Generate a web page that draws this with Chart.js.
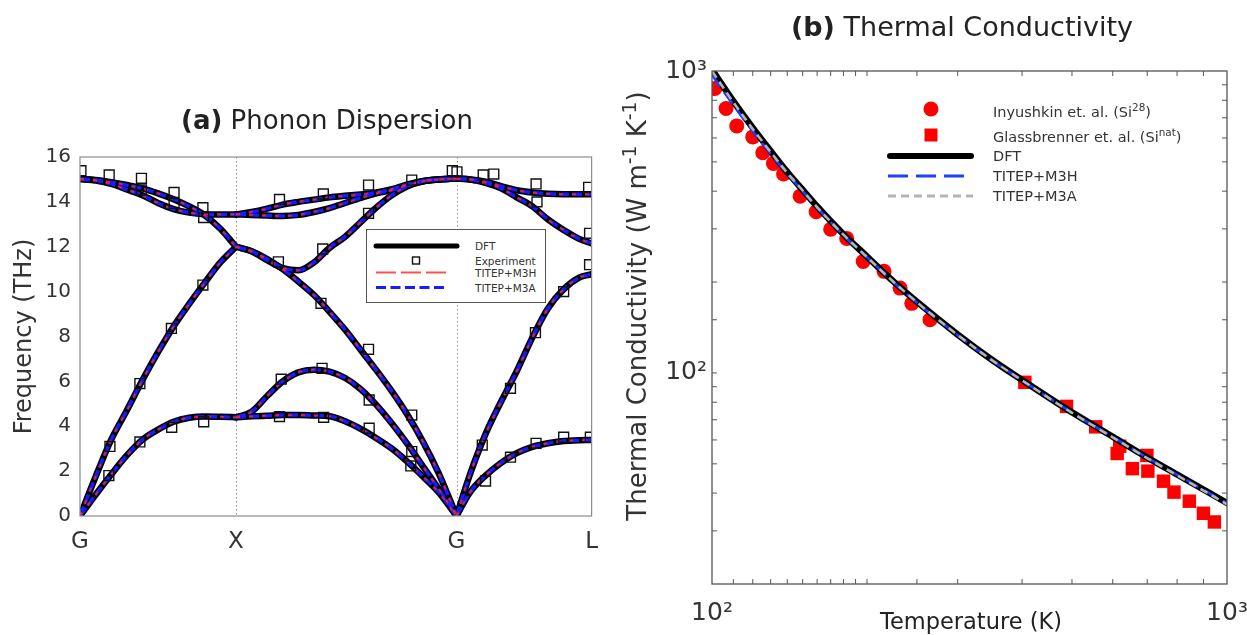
<!DOCTYPE html>
<html><head><meta charset="utf-8">
<script src="https://cdn.jsdelivr.net/npm/chart.js@4.4.1/dist/chart.umd.min.js"></script>
<style>
html,body{margin:0;padding:0;background:#fff}
body{width:1247px;height:635px;position:relative;overflow:hidden;font-family:"DejaVu Sans",sans-serif;color:#222}
canvas{position:absolute;top:0}
#c1{left:0}
#c2{left:610px}
.t{position:absolute;white-space:nowrap}
.lg{position:absolute}
sup{font-size:0.72em;line-height:0}
</style></head><body>
<canvas id="c1" width="610" height="635"></canvas>
<canvas id="c2" width="637" height="635"></canvas>

<div class="t" style="left:0;width:654px;top:104px;line-height:32px;text-align:center;font-size:26px"><b>(a)</b> Phonon Dispersion</div>
<div class="t" style="left:662px;width:600px;top:11px;line-height:32px;text-align:center;font-size:27px"><b>(b)</b> Thermal Conductivity</div>
<div class="t" style="left:771px;width:400px;top:606px;line-height:30px;text-align:center;font-size:22.5px">Temperature (K)</div>
<div class="t" style="left:387px;width:500px;top:290px;height:32px;line-height:32px;text-align:center;font-size:26px;color:#333;transform:rotate(-90deg);transform-origin:50% 50%">Thermal Conductivity (W m<sup>-1</sup> K<sup>-1</sup>)</div>

<!-- legend (a) -->
<div class="lg" style="left:366px;top:229px;width:178px;height:72px;border:1.5px solid #555;background:#fff">
  <svg width="178" height="72" style="position:absolute;left:0;top:0">
    <line x1="9" y1="16" x2="90" y2="16" stroke="#000" stroke-width="5" stroke-linecap="round"/>
    <rect x="45.5" y="27" width="7" height="7" fill="none" stroke="#111" stroke-width="1.4"/>
    <line x1="9" y1="42.5" x2="80" y2="42.5" stroke="#ff5050" stroke-width="2" stroke-dasharray="20 5"/>
    <line x1="9" y1="57.5" x2="80" y2="57.5" stroke="#1a1aff" stroke-width="3" stroke-dasharray="10 4.5"/>
  </svg>
  <div class="t" style="left:108px;top:9px;font-size:10.5px;line-height:14px;color:#333">DFT</div>
  <div class="t" style="left:108px;top:23.5px;font-size:10.5px;line-height:14px;color:#333">Experiment</div>
  <div class="t" style="left:108px;top:36px;font-size:10.5px;line-height:14px;color:#333">TITEP+M3H</div>
  <div class="t" style="left:108px;top:51px;font-size:10.5px;line-height:14px;color:#333">TITEP+M3A</div>
</div>

<!-- legend (b) -->
<div class="lg" style="left:880px;top:95px;width:340px;height:115px">
  <svg width="100" height="115" style="position:absolute;left:0;top:0">
    <circle cx="51" cy="14" r="7.5" fill="#ff0000"/>
    <rect x="44.5" y="33.5" width="13" height="13" fill="#ff0000"/>
    <line x1="10" y1="61" x2="91" y2="61" stroke="#000" stroke-width="6" stroke-linecap="round"/>
    <line x1="8" y1="81" x2="84" y2="81" stroke="#1f3fff" stroke-width="3" stroke-dasharray="20 8"/>
    <line x1="8" y1="101" x2="93" y2="101" stroke="#b4b4b4" stroke-width="3" stroke-dasharray="8 5"/>
  </svg>
  <div class="t" style="left:113px;top:7px;font-size:14.5px;line-height:20px;color:#333">Inyushkin et. al. (Si<sup>28</sup>)</div>
  <div class="t" style="left:113px;top:32px;font-size:14.5px;line-height:20px;color:#333">Glassbrenner et. al. (Si<sup>nat</sup>)</div>
  <div class="t" style="left:113px;top:51px;font-size:14.5px;line-height:20px;color:#333">DFT</div>
  <div class="t" style="left:113px;top:71px;font-size:14.5px;line-height:20px;color:#333">TITEP+M3H</div>
  <div class="t" style="left:113px;top:91px;font-size:14.5px;line-height:20px;color:#333">TITEP+M3A</div>
</div>

<script>
// ---------------- Panel (a): phonon dispersion data ----------------
const K_POS = [0, 1, 2.414, 3.28];
const K_LABELS = ['G', 'X', 'G', 'L'];
const FREQ_TICKS = [0, 2, 4, 6, 8, 10, 12, 14, 16];

const X_GX = [0, 0.1, 0.2, 0.3, 0.4, 0.5, 0.6, 0.7, 0.8, 0.9, 1.0];
const GX_TA = [0, 0.95, 1.85, 2.7, 3.4, 3.85, 4.2, 4.38, 4.43, 4.42, 4.4];
const GX_LA = [0, 1.75, 3.4, 4.7, 6.05, 7.3, 8.45, 9.45, 10.4, 11.3, 12.0];
const GX_LO = [15.02, 14.98, 14.88, 14.75, 14.6, 14.38, 14.12, 13.8, 13.4, 12.8, 12.0];
const GX_TO = [15.02, 14.95, 14.8, 14.55, 14.3, 13.95, 13.68, 13.52, 13.45, 13.44, 13.44];

const X_XG = [1.0, 1.1, 1.2, 1.3, 1.4, 1.5, 1.6, 1.7, 1.8, 1.9, 2.0, 2.1, 2.2, 2.3, 2.414];
const XG_TA1 = [4.4, 4.65, 5.35, 6.0, 6.4, 6.52, 6.43, 6.15, 5.65, 4.95, 4.12, 3.2, 2.2, 1.2, 0];
const XG_TA2 = [4.4, 4.44, 4.47, 4.5, 4.5, 4.48, 4.45, 4.22, 3.88, 3.47, 3.0, 2.41, 1.75, 1.05, 0];
const XG_LA = [12.0, 11.8, 11.45, 11.0, 10.45, 9.85, 9.1, 8.3, 7.4, 6.5, 5.55, 4.5, 3.3, 1.9, 0];
const XG_LO = [12.0, 11.8, 11.4, 11.05, 10.95, 11.3, 11.95, 12.45, 13.1, 13.75, 14.3, 14.7, 14.92, 15.0, 15.04];
const XG_TOA = [13.44, 13.55, 13.7, 13.88, 14.0, 14.1, 14.2, 14.27, 14.33, 14.42, 14.57, 14.78, 14.93, 15.0, 15.04];
const XG_TOB = [13.44, 13.42, 13.39, 13.37, 13.42, 13.55, 13.72, 13.95, 14.18, 14.38, 14.52, 14.74, 14.92, 15.0, 15.04];

const X_GL = [2.414, 2.5, 2.6, 2.7, 2.8, 2.9, 3.0, 3.1, 3.2, 3.28];
const GL_TO = [15.04, 15.0, 14.9, 14.7, 14.52, 14.42, 14.36, 14.34, 14.34, 14.34];
const GL_LO = [15.04, 15.0, 14.85, 14.6, 14.2, 13.8, 13.22, 12.75, 12.35, 12.15];
const GL_LA = [0, 1.85, 3.65, 5.1, 6.45, 7.95, 9.25, 10.1, 10.62, 10.78];
const GL_TA = [0, 1.05, 1.8, 2.37, 2.8, 3.08, 3.24, 3.34, 3.38, 3.39];

// experiment (open squares)
const EXP_K = [0.006, 0.187, 0.394, 0.394, 0.603, 0.603, 0.788, 0.793,
  0.185, 0.192, 0.384, 0.384, 0.588, 0.586, 0.793, 0.788,
  1.279, 1.560, 1.850, 2.127, 2.387, 2.417, 1.850, 1.556, 1.272, 1.545, 1.850,
  1.290, 1.552, 1.854, 2.127, 1.279, 1.562, 1.854, 2.127, 2.121,
  2.585, 2.653, 2.924, 3.261, 2.930, 3.267, 3.267, 3.101, 2.920, 2.760, 2.579,
  2.600, 2.760, 2.924, 3.101, 3.272];
const EXP_F = [15.39, 15.2, 15.05, 14.53, 14.42, 13.93, 13.74, 13.3,
  1.8, 3.1, 3.3, 5.9, 3.95, 8.36, 4.2, 10.29,
  14.11, 14.35, 14.75, 14.97, 15.39, 15.34, 13.49, 11.9, 11.33, 9.48, 7.43,
  6.1, 6.58, 5.17, 4.5, 4.43, 4.4, 3.91, 2.87, 2.23,
  15.2, 15.24, 14.8, 14.65, 14.0, 12.6, 11.2, 10.0, 8.17, 5.69, 3.16,
  1.56, 2.62, 3.24, 3.51, 3.51];

// ---------------- Panel (b): thermal conductivity data ----------------
const T_CURVE = [100, 110, 120, 130, 140, 150, 160, 180, 200, 225, 250, 300, 350, 400, 500, 600, 700, 800, 900, 1000];
const K_DFT = [1010, 795, 648, 543, 463, 404, 356, 288, 243, 201, 172, 134, 110.4, 94.8, 74.1, 61.5, 52.5, 46.1, 41.1, 37.1];
const K_M3H = [970, 772, 632, 532, 456, 400, 353, 286, 241.5, 200, 171, 133.4, 110, 94.5, 73.9, 61.3, 52.4, 46.0, 41.0, 37.0];
const K_M3A = [1000, 788, 643, 539, 460, 402, 354, 287, 242, 200.5, 171.5, 133.6, 110.1, 94.5, 73.8, 61.2, 52.2, 45.8, 40.8, 36.7];

const T_INY = [101.3, 106.5, 111.7, 120, 125.5, 131.6, 137.7, 148.3, 159.3, 170, 182.6, 196.6, 215.8, 231.8, 244.3, 265];
const K_INY = [875, 751, 658, 605, 536, 494, 456, 385, 342, 299, 279, 234, 217, 191, 170, 150];
const T_GLA = [405, 488, 556, 612, 619, 655, 699, 702, 753, 789, 845, 900, 945];
const K_GLA = [93.1, 77.5, 66.3, 54.1, 57.2, 48.2, 53.3, 47.3, 43.8, 40.3, 37.6, 34.3, 32.1];

// ---------------- rendering ----------------
const FONT = '"DejaVu Sans", sans-serif';
Chart.defaults.font.family = FONT;
Chart.defaults.color = '#333';

const pts = (xs, ys) => xs.map((x, i) => ({x: x, y: ys[i]}));

const framePlugin = {
  id: 'frame',
  beforeDatasetsDraw(chart, args, o) {
    if (!o.dotted) return;
    const ctx = chart.ctx, a = chart.chartArea, xs = chart.scales.x;
    ctx.save();
    ctx.strokeStyle = '#8a8a8a'; ctx.lineWidth = 1; ctx.setLineDash([1.5, 2.5]);
    o.dotted.forEach(v => {
      const px = Math.round(xs.getPixelForValue(v)) + 0.5;
      ctx.beginPath(); ctx.moveTo(px, a.top); ctx.lineTo(px, a.bottom); ctx.stroke();
    });
    ctx.restore();
  },
  afterDatasetsDraw(chart, args, o) {
    const ctx = chart.ctx, a = chart.chartArea;
    ctx.save();
    ctx.strokeStyle = o.color || '#555'; ctx.lineWidth = o.width || 1.2;
    ctx.strokeRect(a.left, a.top, a.right - a.left, a.bottom - a.top);
    if (o.inwardTicks) {
      const L = 5;
      const xs = chart.scales.x, ys = chart.scales.y;
      ctx.lineWidth = 1;
      xs.ticks.forEach(t => {
        const px = xs.getPixelForValue(t.value);
        if (px <= a.left + 1 || px >= a.right - 1) return;
        ctx.beginPath(); ctx.moveTo(px, a.bottom); ctx.lineTo(px, a.bottom - L);
        ctx.moveTo(px, a.top); ctx.lineTo(px, a.top + L); ctx.stroke();
      });
      ys.ticks.forEach(t => {
        const py = ys.getPixelForValue(t.value);
        if (py <= a.top + 1 || py >= a.bottom - 1) return;
        ctx.beginPath(); ctx.moveTo(a.left, py); ctx.lineTo(a.left + L, py);
        ctx.moveTo(a.right, py); ctx.lineTo(a.right - L, py); ctx.stroke();
      });
    }
    ctx.restore();
  }
};

// Panel (a)
const BRANCHES = [
  [X_GX, GX_TA], [X_GX, GX_LA], [X_GX, GX_LO], [X_GX, GX_TO],
  [X_XG, XG_TA1], [X_XG, XG_TA2], [X_XG, XG_LA], [X_XG, XG_LO], [X_XG, XG_TOA], [X_XG, XG_TOB],
  [X_GL, GL_TO], [X_GL, GL_LO], [X_GL, GL_LA], [X_GL, GL_TA]
];
const lineCommon = {showLine: true, pointRadius: 0, fill: false, cubicInterpolationMode: 'monotone', borderJoinStyle: 'round'};
const ds1 = [];
BRANCHES.forEach(([xs, ys]) => {
  const d = pts(xs, ys);
  ds1.push(Object.assign({label: 'DFT', data: d, borderColor: '#000', borderWidth: 6.5, borderCapStyle: 'round', order: 3}, lineCommon));
  ds1.push(Object.assign({label: 'TITEP+M3A', data: d, borderColor: '#1a1aff', borderWidth: 3.4, borderDash: [10, 3], order: 2}, lineCommon));
  ds1.push(Object.assign({label: 'TITEP+M3H', data: d, borderColor: '#e02828', borderWidth: 1.8, borderDash: [4, 9], order: 1}, lineCommon));
});
ds1.push({label: 'Experiment', data: pts(EXP_K, EXP_F), showLine: false, pointStyle: 'rect',
  pointRadius: 7, pointBorderWidth: 1.4, pointBorderColor: '#111', pointBackgroundColor: 'rgba(0,0,0,0)', order: 0});

new Chart(document.getElementById('c1'), {
  type: 'scatter',
  data: {datasets: ds1},
  plugins: [framePlugin],
  options: {
    responsive: false, animation: false, devicePixelRatio: 1,
    layout: {padding: {left: 0, right: 17, top: 157, bottom: 0}},
    plugins: {legend: {display: false}, tooltip: {enabled: false},
      frame: {dotted: [K_POS[1], K_POS[2]], color: '#8c8c8c', width: 1.2}},
    scales: {
      x: {type: 'linear', min: K_POS[0], max: K_POS[3],
        afterBuildTicks: s => { s.ticks = K_POS.map(v => ({value: v})); },
        afterFit: s => { s.height = 119; },
        ticks: {callback: (v, i) => K_LABELS[i], autoSkip: false, maxRotation: 0, padding: 12,
          font: {size: 23}, color: '#333'},
        grid: {display: false, drawTicks: false}, border: {display: false}},
      y: {min: 0, max: 16,
        afterBuildTicks: s => { s.ticks = FREQ_TICKS.map(v => ({value: v})); },
        afterFit: s => { s.width = 80; },
        ticks: {padding: 9, font: {size: 20}, color: '#333'},
        grid: {display: false, drawTicks: false}, border: {display: false},
        title: {display: true, text: 'Frequency (THz)', font: {size: 24}, color: '#333', padding: {top: 10, bottom: 0}}}
    }
  }
});

// Panel (b)
const isPow10 = v => Math.abs(Math.log10(v) - Math.round(Math.log10(v))) < 1e-9;
const powLabel = v => { const e = Math.round(Math.log10(v)); return e === 2 ? '10²' : e === 3 ? '10³' : '10' + e; };
const tickCb = v => isPow10(v) ? powLabel(v) : '';

const ds2 = [
  Object.assign({label: 'DFT', data: pts(T_CURVE, K_DFT), borderColor: '#000', borderWidth: 6.5, borderCapStyle: 'round', order: 3}, lineCommon),
  Object.assign({label: 'TITEP+M3H', data: pts(T_CURVE, K_M3H), borderColor: '#1f3fff', borderWidth: 2.6, borderDash: [14, 7], order: 2}, lineCommon),
  Object.assign({label: 'TITEP+M3A', data: pts(T_CURVE, K_M3A), borderColor: '#b4b4b4', borderWidth: 2.6, borderDash: [8, 5], order: 1}, lineCommon),
  {label: 'Inyushkin et. al. (Si28)', data: pts(T_INY, K_INY), showLine: false, pointStyle: 'circle',
    pointRadius: 7.5, pointBorderWidth: 0, pointBackgroundColor: '#ff0000', pointBorderColor: '#ff0000', order: 4},
  {label: 'Glassbrenner et. al. (Sinat)', data: pts(T_GLA, K_GLA), showLine: false, pointStyle: 'rect',
    pointRadius: 9.5, pointBorderWidth: 0, pointBackgroundColor: '#ff0000', pointBorderColor: '#ff0000', order: 4}
];

new Chart(document.getElementById('c2'), {
  type: 'scatter',
  data: {datasets: ds2},
  plugins: [framePlugin],
  options: {
    responsive: false, animation: false, devicePixelRatio: 1,
    layout: {padding: {left: 0, right: 0, top: 71, bottom: 0}},
    plugins: {legend: {display: false}, tooltip: {enabled: false},
      frame: {color: '#555', width: 1.3, inwardTicks: true}},
    scales: {
      x: {type: 'logarithmic', min: 100, max: 1000,
        afterFit: s => { s.height = 51; s.paddingRight = 20; },
        ticks: {callback: tickCb, autoSkip: false, maxRotation: 0, padding: 14, font: {size: 25}, color: '#333'},
        grid: {display: false, drawTicks: false}, border: {display: false}},
      y: {type: 'logarithmic', min: 20, max: 1000,
        afterFit: s => { s.width = 102; },
        ticks: {callback: tickCb, autoSkip: false, padding: 5, font: {size: 25}, color: '#333'},
        grid: {display: false, drawTicks: false}, border: {display: false},
        title: {display: false}}
    }
  }
});
</script>
</body></html>
